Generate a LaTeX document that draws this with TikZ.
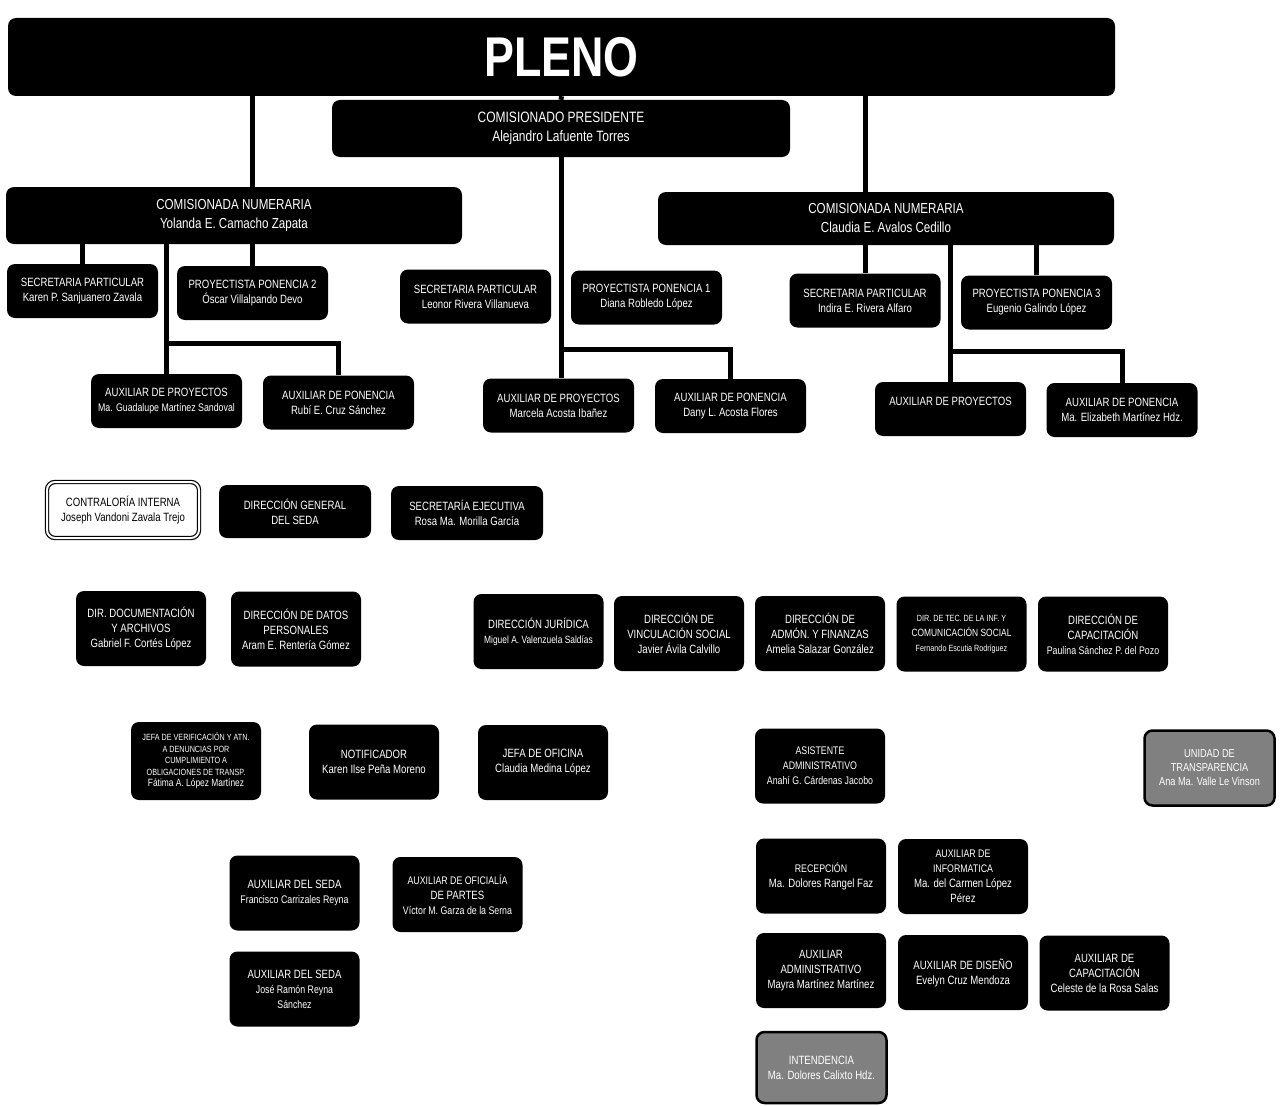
\documentclass[tikz,border=0pt]{standalone}
\usepackage{fontspec}
\setmainfont{Liberation Sans}[FakeStretch=0.8]
% line fonts (each line of an aligned node is set on its own)
\newcommand\nme{\fontsize{12}{15}\selectfont}
\newcommand\nms{\fontsize{11}{14}\selectfont}
\newcommand\nmt{\fontsize{10.5}{13}\selectfont}
\newcommand\tny{\fontsize{9}{11.5}\selectfont}

\tikzset{
  orgbox/.style={rounded corners=8pt, fill=black, text=white, align=center,
    inner sep=0pt, font=\fontsize{12}{15}\selectfont},
  upbox/.style={orgbox, minimum width=151pt, minimum height=54pt},
  lowbox/.style={orgbox, minimum width=130pt, minimum height=75pt},
  greybox/.style={lowbox, draw=black, line width=2.5pt, fill=black!50},
  link/.style={line width=5pt, black}
}

\begin{document}
\begin{tikzpicture}[x=1pt,y=-1pt]
  \useasboundingbox (0,0) rectangle (1281,1105);
  % pleno and comisionados
  \node[orgbox, minimum width=1107pt, minimum height=78pt,
        font=\bfseries\fontsize{56}{60}\selectfont] (pleno) at (561.5,57) {PLENO};
  \node[orgbox, minimum width=458pt, minimum height=57pt, font=\fontsize{15}{19}\selectfont]
        (pres) at (561,128.5) {COMISIONADO PRESIDENTE\\Alejandro Lafuente Torres};
  \node[orgbox, minimum width=456pt, minimum height=57pt, font=\fontsize{14.5}{19}\selectfont]
        (cleft) at (234,215.5) {COMISIONADA NUMERARIA\\Yolanda E. Camacho Zapata};
  \node[orgbox, minimum width=456pt, minimum height=53pt, font=\fontsize{14.5}{19}\selectfont]
        (cright) at (886,218.5) {COMISIONADA NUMERARIA\\Claudia E. Avalos Cedillo};
  % ponencias
  \foreach \nm/\cx/\cy/\txt in {
    spk/82.5/291/{SECRETARIA PARTICULAR\\\nme Karen P. Sanjuanero Zavala},
    pp2/252.5/293/{PROYECTISTA PONENCIA 2\\\nme Óscar Villalpando Devo},
    spl/475.5/296.5/{SECRETARIA PARTICULAR\\\nme Leonor Rivera Villanueva},
    pp1/646.5/297.5/{PROYECTISTA PONENCIA 1\\\nme Diana Robledo López},
    spi/865/300.5/{SECRETARIA PARTICULAR\\\nme Indira E. Rivera Alfaro},
    pp3/1036.5/302.5/{PROYECTISTA PONENCIA 3\\\nme Eugenio Galindo López},
    apr2/166.5/401/{AUXILIAR DE PROYECTOS\\\nms Ma. Guadalupe Martínez Sandoval},
    apo2/338.5/402.5/{AUXILIAR DE PONENCIA\\\nme Rubí E. Cruz Sánchez},
    apr1/558.5/405.5/{AUXILIAR DE PROYECTOS\\\nme Marcela Acosta Ibañez},
    apo1/730.5/406/{AUXILIAR DE PONENCIA\\\nme Dany L. Acosta Flores},
    apr3/950.5/409/{AUXILIAR DE PROYECTOS\\\nme\mbox{}},
    apo3/1122/410/{AUXILIAR DE PONENCIA\\\nme Ma. Elizabeth Martínez Hdz.}}
    \node[upbox] (\nm) at (\cx,\cy) {\txt};
  % links
  \draw[link] (pleno.south -| pp2.north) -- (cleft.north -| pp2.north);
  \draw[link] (pleno.south) -- (pres.north);
  \draw[link] (pleno.south -| spi.north) -- (cright.north -| spi.north);
  \draw[link] (pres.south) -- (pres.south |- apr1.north);
  \draw[link] (pres.south |- apo1.north) ++(0,-29) -| (apo1.north);
  \draw[link] (cleft.south -| spk.north) -- (spk.north);
  \draw[link] (cleft.south -| pp2.north) -- (pp2.north);
  \draw[link] (cleft.south -| apr2.north) -- (apr2.north);
  \draw[link] (apr2.north) ++(0,-30) -| (apo2.north);
  \draw[link] (cright.south -| spi.north) -- (spi.north);
  \draw[link] (cright.south -| pp3.north) -- (pp3.north);
  \draw[link] (cright.south -| apr3.north) -- (apr3.north);
  \draw[link] (apr3.north) ++(0,-30) -| (apo3.north);
  % organos
  \node[orgbox, fill=white, text=black, draw=black, line width=1.2pt, double=white,
        double distance=2pt, minimum width=152pt, minimum height=56pt]
        (ci) at (123,510) {CONTRALORÍA INTERNA\\\nme Joseph Vandoni Zavala Trejo};
  \node[upbox, minimum width=152pt, minimum height=53pt] (dgs) at (295,511.5)
        {DIRECCIÓN GENERAL\\DEL SEDA};
  \node[upbox, minimum width=152pt] (sej) at (467,513)
        {SECRETARÍA EJECUTIVA\\\nme Rosa Ma. Morilla García};
  % direcciones
  \foreach \nm/\cx/\cy/\txt in {
    ddoc/141/628.5/{DIR. DOCUMENTACIÓN\\Y ARCHIVOS\\Gabriel F. Cortés López},
    ddp/296/629/{DIRECCIÓN DE DATOS\\PERSONALES\\Aram E. Rentería Gómez},
    djur/538.5/631.5/{DIRECCIÓN JURÍDICA\\\nmt Miguel A. Valenzuela Saldías},
    dvin/679/633.5/{DIRECCIÓN DE\\VINCULACIÓN SOCIAL\\Javier Ávila Calvillo},
    dadm/820/633.5/{DIRECCIÓN DE\\ADMÓN. Y FINANZAS\\Amelia Salazar González},
    dtec/961.5/634/{\tny DIR. DE TEC. DE LA INF. Y\\\nmt COMUNICACIÓN SOCIAL\\\tny Fernando Escutia Rodríguez},
    dcap/1103/634/{DIRECCIÓN DE\\CAPACITACIÓN\\\nms Paulina Sánchez P. del Pozo}}
    \node[lowbox] (\nm) at (\cx,\cy) {\txt};
  % jefaturas y auxiliares
  \node[lowbox, minimum height=78pt, font=\tny] (jver) at (196,761)
        {JEFA DE VERIFICACIÓN Y ATN.\\A DENUNCIAS POR\\CUMPLIMIENTO A\\OBLIGACIONES DE TRANSP.\\\nmt Fátima A. López Martínez};
  \foreach \nm/\cx/\cy/\txt in {
    noti/374/762/{NOTIFICADOR\\\nme Karen Ilse Peña Moreno},
    jofi/543/762.5/{JEFA DE OFICINA\\\nme Claudia Medina López},
    asad/820/766/{\nms ASISTENTE\\\nms ADMINISTRATIVO\\\nms Anahí G. Cárdenas Jacobo},
    as1/294.5/893/{AUXILIAR DEL SEDA\\\nms Francisco Carrizales Reyna},
    aop/457.5/894.5/{\nms AUXILIAR DE OFICIALÍA\\DE PARTES\\\nms Víctor M. Garza de la Serna},
    as2/294.5/989/{AUXILIAR DEL SEDA\\\nms José Ramón Reyna\\\nms Sánchez},
    rec/821/876/{\nms RECEPCIÓN\\Ma. Dolores Rangel Faz},
    ainf/963/876.5/{\nms AUXILIAR DE\\\nms INFORMATICA\\Ma. del Carmen López\\Pérez},
    aadm/821/970.5/{AUXILIAR\\ADMINISTRATIVO\\Mayra Martínez Martínez},
    adis/963/972.5/{AUXILIAR DE DISEÑO\\Evelyn Cruz Mendoza},
    acap/1104.5/973/{AUXILIAR DE\\CAPACITACIÓN\\Celeste de la Rosa Salas}}
    \node[lowbox] (\nm) at (\cx,\cy) {\txt};
  \node[greybox, font=\fontsize{11.5}{14}\selectfont] (utra) at (1209.5,768)
        {UNIDAD DE\\TRANSPARENCIA\\Ana Ma. Valle Le Vinson};
  \node[greybox, minimum height=71pt] (inte) at (821.5,1067.5)
        {INTENDENCIA\\Ma. Dolores Calixto Hdz.};
\end{tikzpicture}
\end{document}
